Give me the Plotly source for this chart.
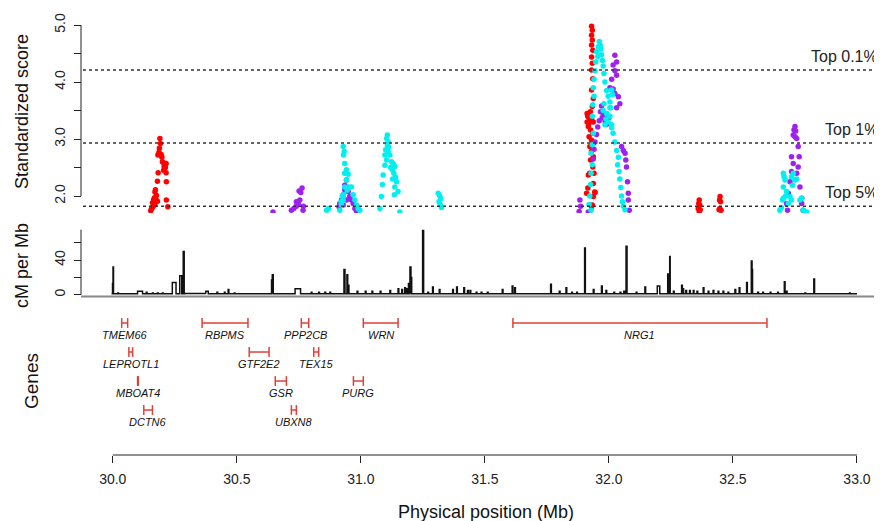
import plotly.graph_objects as go

# The page adds an 8 px body margin, so the figure is made 8 px smaller and
# reference pixel positions are shifted by that offset.
REF_W, REF_H, OFF = 882, 521, 8
W, H = REF_W - OFF, REF_H - OFF

# ---------------- data ----------------
# Standardized scores (Mb, score) for three populations
red_x = [30.190, 30.192, 30.188, 30.186, 30.195, 30.182, 30.198, 30.200, 30.205, 30.210, 30.215, 30.207,
         30.212, 30.205, 30.215, 30.183, 30.216, 30.180, 30.172, 30.170, 30.176, 30.168, 30.165, 30.175,
         30.180, 30.160, 30.170, 30.165, 30.160, 30.156, 30.153, 30.216, 30.222,
         31.930, 31.933, 31.930, 31.933, 31.930, 31.935, 31.930, 31.933, 31.930, 31.935, 31.930, 31.937,
         31.933, 31.917, 31.923, 31.920, 31.930, 31.937, 31.917, 31.926, 31.935, 31.920, 31.930, 31.937,
         31.923, 31.930, 31.937, 31.926, 31.935, 31.940, 31.917, 31.937, 31.910, 31.944, 31.937, 31.933,
         31.930, 31.912, 31.915, 31.925, 31.912, 31.920, 31.915, 31.943, 31.922,
         32.364, 32.362, 32.366, 32.360, 32.368, 32.364,
         32.448, 32.446, 32.450, 32.447, 32.452, 32.444]
red_y = [3.01, 2.92, 2.84, 2.77, 2.73, 2.72, 2.68, 2.60, 2.58, 2.55, 2.57, 2.52,
         2.50, 2.45, 2.41, 2.41, 2.25, 2.26, 2.11, 2.07, 2.01, 1.97, 1.94, 1.93,
         1.91, 1.88, 1.86, 1.83, 1.80, 1.77, 1.74, 1.93, 1.81,
         4.98, 4.91, 4.82, 4.74, 4.65, 4.56, 4.44, 4.33, 4.21, 4.06, 3.86, 3.71,
         3.57, 3.39, 3.33, 3.28, 3.36, 3.30, 3.22, 3.16, 3.10, 3.04, 2.98, 2.92,
         2.87, 2.78, 2.69, 2.63, 2.51, 2.40, 2.37, 2.22, 2.05, 2.06, 1.99, 1.84,
         1.81, 3.45, 3.40, 3.48, 3.30, 3.42, 2.14, 2.07, 2.40,
         1.93, 1.87, 1.84, 1.78, 1.76, 1.73,
         1.99, 1.93, 1.90, 1.78, 1.75, 1.76]

cyan_x = [30.862, 30.870, 30.915, 30.922, 30.929, 30.930, 30.935, 30.942, 30.935, 30.942, 30.935, 30.930,
          30.933, 30.929, 30.949, 30.952, 30.962, 30.969, 30.976, 30.983, 30.989, 30.996, 30.925, 30.920,
          30.945,
          31.107, 31.104, 31.110, 31.107, 31.100, 31.110, 31.117, 31.104, 31.124, 31.130, 31.137, 31.127,
          31.133, 31.140, 31.144, 31.137, 31.150, 31.097, 31.090, 31.087, 31.083, 31.077, 31.157, 31.097,
          31.112, 31.120, 31.128, 31.135,
          31.312, 31.318, 31.322, 31.315, 31.320, 31.325,
          31.961, 31.957, 31.950, 31.955, 31.947, 31.944, 31.940, 31.937, 31.940, 31.935, 31.933, 31.937,
          31.933, 31.928, 31.933, 31.928, 31.926, 31.923, 31.920, 31.928,
          31.965, 31.968, 31.970, 31.974, 31.977, 31.980, 31.984, 31.991, 31.997, 32.004, 32.007, 32.004,
          32.011, 32.017, 32.024, 32.031, 32.038, 32.035, 32.041, 32.044, 32.048, 32.051, 32.055, 32.058,
          32.065,
          32.011, 32.015, 32.004, 31.991, 31.988, 31.997, 32.011, 31.984, 31.977, 31.980,
          32.703, 32.706, 32.710, 32.703, 32.716, 32.703, 32.700, 32.730, 32.736, 32.743, 32.750, 32.740,
          32.757, 32.736, 32.723, 32.689, 32.770, 32.777, 32.783, 32.797, 32.695, 32.712]
cyan_y = [1.75, 1.78, 1.75, 1.84, 1.93, 2.02, 2.16, 2.28, 2.40, 2.46, 2.57, 2.72,
          2.78, 2.87, 2.38, 2.16, 2.16, 2.02, 1.93, 1.84, 1.78, 1.75, 1.99, 1.90,
          2.10,
          3.07, 3.01, 2.95, 2.89, 2.81, 2.78, 2.72, 2.63, 2.60, 2.57, 2.52, 2.46,
          2.40, 2.33, 2.25, 2.16, 2.08, 2.54, 2.37, 2.20, 1.99, 1.78, 1.72, 2.72,
          2.86, 2.50, 2.30, 2.02,
          2.05, 2.00, 1.95, 1.90, 1.85, 1.80,
          4.71, 4.62, 4.53, 4.45, 4.35, 4.20, 4.05, 3.90, 3.75, 3.60, 3.40, 3.10,
          2.90, 2.75, 2.55, 2.40, 2.20, 2.00, 1.85, 1.75,
          4.65, 4.58, 4.48, 4.38, 4.28, 4.15, 4.00, 3.85, 3.75, 3.65, 3.55, 3.40,
          3.25, 3.10, 2.95, 2.80, 2.68, 2.55, 2.43, 2.30, 2.15, 2.00, 1.90, 1.82,
          1.76,
          3.86, 3.78, 3.55, 3.45, 3.35, 3.30, 3.20, 3.25, 3.50, 3.62,
          2.40, 2.34, 2.28, 2.16, 2.08, 1.96, 1.93, 1.99, 2.34, 2.40, 2.28, 2.19,
          2.30, 1.93, 1.87, 1.75, 1.93, 1.96, 1.75, 1.72, 1.80, 2.00]

purple_x = [30.646, 30.720, 30.730, 30.740, 30.748, 30.754, 30.740, 30.758, 30.763, 30.751, 30.767, 30.768,
            30.942, 30.935, 30.935, 30.929, 30.922, 30.915, 30.912, 30.949, 30.955, 30.962, 30.969, 30.976,
            30.982, 30.989, 30.942, 30.929, 30.945,
            32.024, 32.031, 32.017, 32.024, 32.031, 32.011, 32.004, 32.017, 32.024, 32.038, 32.044, 32.031,
            31.970, 31.966, 31.973, 31.984, 31.991, 31.961, 31.955, 31.950, 31.944, 31.940, 31.937, 31.978,
            31.985, 32.000, 32.051, 32.058, 32.065, 32.068, 32.071, 32.075, 32.078, 32.078, 32.082, 31.883,
            31.886, 31.880, 31.917,
            32.750, 32.746, 32.753, 32.743, 32.750, 32.757, 32.763, 32.736, 32.767, 32.743, 32.763, 32.736,
            32.757, 32.730, 32.770, 32.723, 32.777, 32.716, 32.777, 32.783, 32.720]
purple_y = [1.72, 1.75, 1.78, 1.82, 1.87, 1.93, 1.90, 2.06, 2.14, 2.09, 1.75, 1.82,
            2.28, 2.19, 2.11, 2.02, 1.93, 1.87, 1.81, 2.08, 1.99, 1.93, 1.87, 1.78,
            1.74, 1.77, 1.93, 1.84, 2.15,
            4.47, 4.35, 4.30, 4.20, 4.12, 4.05, 3.90, 3.88, 3.80, 3.74, 3.62, 3.55,
            3.58, 3.48, 3.38, 3.32, 3.26, 3.32, 3.21, 3.08, 2.95, 2.82, 2.65, 3.44,
            3.40, 3.38, 2.87, 2.80, 2.75, 2.63, 2.51, 2.25, 2.05, 1.93, 1.75, 1.93,
            1.82, 1.73, 1.72,
            3.22, 3.16, 3.14, 3.07, 3.04, 3.01, 2.87, 2.69, 2.69, 2.57, 2.51, 2.43,
            2.40, 2.25, 2.16, 2.05, 1.96, 1.87, 1.87, 1.75, 1.75]

# Threshold lines
thr_names = ["Top 0.1%", "Top 1%", "Top 5%"]
thr_vals = [4.21, 2.93, 1.82]

# Recombination rate hot spots (start Mb, end Mb, cM per Mb); background rate elsewhere
base_rate = 1.0
spike_start = [29.999, 30.001, 30.020, 30.100, 30.135, 30.160, 30.180, 30.200, 30.240, 30.270, 30.284,
               30.290, 30.375, 30.420, 30.450, 30.465, 30.490, 30.640, 30.643, 30.735, 30.800, 30.830,
               30.855, 30.875, 30.932, 30.944, 30.949, 30.985, 31.018, 31.045, 31.078, 31.117, 31.150,
               31.165, 31.177, 31.185, 31.192, 31.198, 31.202, 31.249, 31.270, 31.289, 31.316, 31.370,
               31.386, 31.415, 31.430, 31.440, 31.465, 31.485, 31.510, 31.570, 31.610, 31.620, 31.765,
               31.800, 31.827, 31.850, 31.870, 31.902, 31.937, 31.970, 31.988, 32.020, 32.045, 32.060,
               32.069, 32.110, 32.145, 32.195, 32.237, 32.245, 32.260, 32.293, 32.298, 32.310, 32.325,
               32.340, 32.355, 32.380, 32.400, 32.420, 32.440, 32.460, 32.480, 32.508, 32.525, 32.555,
               32.574, 32.577, 32.600, 32.620, 32.650, 32.680, 32.707, 32.715, 32.790, 32.826, 32.970]
spike_end = [30.001, 30.003, 30.023, 30.120, 30.138, 30.163, 30.183, 30.203, 30.255, 30.278, 30.288,
             30.375, 30.385, 30.423, 30.453, 30.468, 30.493, 30.643, 30.647, 30.757, 30.803, 30.833,
             30.858, 30.878, 30.936, 30.947, 30.952, 30.988, 31.021, 31.048, 31.081, 31.120, 31.153,
             31.168, 31.180, 31.188, 31.196, 31.202, 31.205, 31.253, 31.273, 31.292, 31.319, 31.373,
             31.389, 31.418, 31.433, 31.443, 31.468, 31.488, 31.513, 31.573, 31.613, 31.623, 31.768,
             31.803, 31.830, 31.853, 31.873, 31.905, 31.940, 31.973, 31.991, 32.023, 32.048, 32.063,
             32.073, 32.113, 32.148, 32.205, 32.240, 32.247, 32.263, 32.296, 32.301, 32.313, 32.328,
             32.343, 32.358, 32.383, 32.403, 32.423, 32.443, 32.463, 32.483, 32.511, 32.528, 32.558,
             32.577, 32.579, 32.603, 32.623, 32.653, 32.683, 32.710, 32.718, 32.793, 32.829, 32.973]
spike_cM = [13, 32, 2, 4, 3, 2, 2, 2, 14, 22, 50,
            1.5, 4, 3, 3, 6, 2, 17, 23, 7, 3, 3,
            3, 3, 29, 23, 11, 4, 4, 4, 4, 5, 7,
            6, 8, 7, 13, 32, 20, 74, 3, 9, 6, 6,
            9, 8, 5, 5, 3, 3, 3, 6, 10, 8, 12,
            4, 8, 3, 3, 54, 6, 10, 5, 3, 3, 4,
            56, 3, 9, 10, 24, 44, 4, 11, 7, 5, 5,
            5, 4, 8, 4, 5, 4, 4, 3, 6, 8, 14,
            39, 29, 3, 3, 3, 3, 15, 4, 2, 18, 2]
rate_first, rate_last = 29.995, 33.0

# Genes (start Mb, end Mb, row)
gene_names = ["TMEM66", "RBPMS", "PPP2CB", "WRN", "NRG1",
              "LEPROTL1", "GTF2E2", "TEX15",
              "MBOAT4", "GSR", "PURG",
              "DCTN6", "UBXN8"]
gene_start = [30.036, 30.360, 30.760, 31.010, 31.613,
              30.065, 30.550, 30.810,
              30.100, 30.655, 30.970,
              30.125, 30.720]
gene_end = [30.060, 30.545, 30.790, 31.150, 32.637,
            30.080, 30.630, 30.830,
            30.103, 30.700, 31.010,
            30.160, 30.740]
gene_row = [1, 1, 1, 1, 1, 2, 2, 2, 3, 3, 3, 4, 4]

x_ticks = [30.0, 30.5, 31.0, 31.5, 32.0, 32.5, 33.0]
x_ticklabels = ["30.0", "30.5", "31.0", "31.5", "32.0", "32.5", "33.0"]
score_ticks = [2.0, 2.5, 3.0, 3.5, 4.0, 4.5, 5.0]
score_ticklabels = ["2.0", "", "3.0", "", "4.0", "", "5.0"]
cm_ticks = [0, 20, 40, 60]
cm_ticklabels = ["0", "", "40", ""]

# ---------------- figure ----------------
FONT = "Liberation Sans, Arial, sans-serif"


def fx(p):
    return (p - OFF) / W


def fy(p):
    return 1 - (p - OFF) / H


RED, CYAN, PURPLE = "#FF0000", "#00F0F0", "#A020F0"
fig = go.Figure()

for xs, ys, col in [(red_x, red_y, RED), (purple_x, purple_y, PURPLE), (cyan_x, cyan_y, CYAN)]:
    fig.add_trace(go.Scatter(x=xs, y=ys, mode="markers", xaxis="x", yaxis="y",
                             marker=dict(size=5.5, color=col, line=dict(width=0)),
                             hoverinfo="skip", showlegend=False))

# recombination step function
rx, ry = [rate_first], [base_rate]
for s, e, v in sorted(zip(spike_start, spike_end, spike_cM)):
    rx += [s, e]
    ry += [v, base_rate]
rx.append(rate_last)
ry.append(base_rate)
fig.add_trace(go.Scatter(x=rx, y=ry, mode="lines", xaxis="x", yaxis="y2",
                         line=dict(color="#111111", width=1.5, shape="hv"),
                         hoverinfo="skip", showlegend=False))

# genes
gx, gy = [], []
for s, e, r in zip(gene_start, gene_end, gene_row):
    gx += [s, e, None]
    gy += [r, r, None]
fig.add_trace(go.Scatter(x=gx, y=gy, mode="lines+markers", xaxis="x", yaxis="y3",
                         line=dict(color="#E0403A", width=1.5),
                         marker=dict(symbol="line-ns", size=7, line=dict(color="#E0403A", width=1.5)),
                         hoverinfo="skip", showlegend=False))

ann = []
for n, s, e, r in zip(gene_names, gene_start, gene_end, gene_row):
    ann.append(dict(x=(s + e) / 2, y=r, xref="x", yref="y3", text="<i>%s</i>" % n,
                    showarrow=False, yshift=-12, font=dict(size=11, color="#111", family=FONT)))

for n, v in zip(thr_names, thr_vals):
    ann.append(dict(x=fx(880), y=v, xref="paper", yref="y", text=n, xanchor="right",
                    yanchor="bottom", yshift=3, showarrow=False,
                    font=dict(size=16, color="#222", family=FONT)))

for txt, x, y, sz in [("Standardized score", 22, 112, 18), ("cM per Mb", 22, 266, 18), ("Genes", 31, 381, 19)]:
    ann.append(dict(x=fx(x), y=fy(y), xref="paper", yref="paper", text=txt, textangle=-90,
                    xanchor="center", yanchor="middle",
                    showarrow=False, font=dict(size=sz, color="#111", family=FONT)))
ann.append(dict(x=fx(486), y=fy(512), xref="paper", yref="paper", text="Physical position (Mb)",
                xanchor="center", yanchor="middle",
                showarrow=False, font=dict(size=18, color="#111", family=FONT)))

shapes = []
for v in thr_vals:
    shapes.append(dict(type="line", xref="paper", yref="y", x0=fx(83), x1=1, y0=v, y1=v,
                       line=dict(color="#333", width=1.5, dash="dot")))
# R-style axis lines spanning tick range
shapes.append(dict(type="line", xref="paper", yref="y", x0=fx(81), x1=fx(81), y0=2.0, y1=5.0,
                   line=dict(color="#222", width=1)))
shapes.append(dict(type="line", xref="paper", yref="y2", x0=fx(81), x1=fx(81), y0=0, y1=75,
                   line=dict(color="#222", width=1)))
shapes.append(dict(type="line", xref="paper", yref="y2", x0=fx(81), x1=1, y0=-2, y1=-2,
                   line=dict(color="#888", width=2)))
shapes.append(dict(type="line", xref="x", yref="paper", x0=30.0, x1=33.0, y0=fy(455), y1=fy(455),
                   line=dict(color="#222", width=1)))

fig.update_layout(
    width=W, height=H, margin=dict(l=0, r=0, t=0, b=0),
    paper_bgcolor="white", plot_bgcolor="white",
    font=dict(family=FONT, color="#222"),
    xaxis=dict(domain=[fx(83), 1], range=[29.88, 33.1008], anchor="free", position=fy(455),
               tickvals=x_ticks, ticktext=x_ticklabels, ticks="outside", ticklen=7,
               tickcolor="#222", showgrid=False, zeroline=False, showline=False,
               tickfont=dict(size=14, color="#222"), ticklabelstandoff=4),
    yaxis=dict(domain=[fy(213.1), 1], range=[1.70, 5.44 - OFF / 57.0], anchor="free", position=fx(81),
               tickvals=score_ticks, ticktext=score_ticklabels, ticks="outside", ticklen=7,
               tickcolor="#222", tickangle=-90, showgrid=False, zeroline=False, showline=False,
               tickfont=dict(size=14, color="#222"), ticklabelstandoff=3),
    yaxis2=dict(domain=[fy(298.2), fy(221.9)], range=[-4, 84], anchor="free", position=fx(81),
                tickvals=cm_ticks, ticktext=cm_ticklabels, ticks="outside", ticklen=7,
                tickcolor="#222", tickangle=-90, showgrid=False, zeroline=False, showline=False,
                tickfont=dict(size=14, color="#222"), ticklabelstandoff=3),
    yaxis3=dict(domain=[fy(440), fy(305)], range=[5.034, 0.379], anchor="free", position=fx(81),
                showticklabels=False, ticks="", showgrid=False, zeroline=False, showline=False),
    annotations=ann, shapes=shapes,
)

fig.write_html("out.html")
